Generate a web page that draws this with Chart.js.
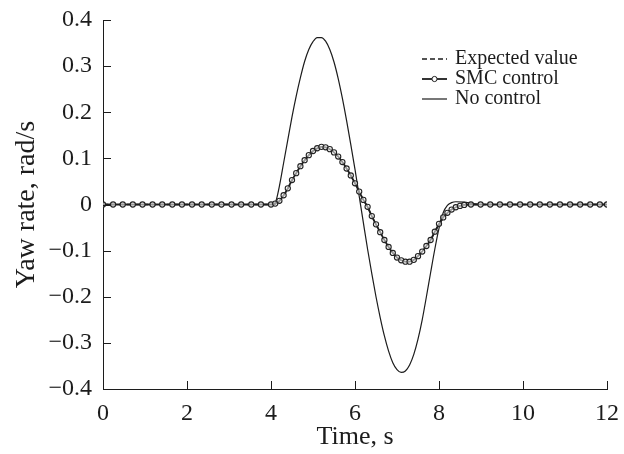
<!DOCTYPE html>
<html lang="en">

<head>
    <meta charset="UTF-8">
    <title>Yaw rate</title>
    <script src="https://cdn.jsdelivr.net/npm/chart.js"></script>
    <style>
        body {
            margin: 0;
            background: #fff;
        }
    </style>
</head>

<body>
    <canvas id="yawChart" width="624" height="454"></canvas>

    <script>
        // values (time in s, yaw rate in rad/s)
        const noControlTime = [0, 4.0, 4.1, 4.2, 4.3, 4.4, 4.5, 4.6, 4.7, 4.8, 4.9, 5.0, 5.1, 5.2, 5.3, 5.4, 5.5, 5.6, 5.7,
            5.8, 5.9, 6.0, 6.1, 6.2, 6.3, 6.4, 6.5, 6.6, 6.7, 6.8, 6.9, 7.0, 7.1, 7.2, 7.3, 7.4, 7.5, 7.6, 7.7, 7.8, 7.9,
            8.0, 8.1, 8.2, 8.3, 8.4, 8.6, 8.8, 9.0, 12];
        const noControlRate = [0, 0, 0.004, 0.04, 0.09, 0.14, 0.19, 0.235, 0.275, 0.31, 0.336, 0.353, 0.362, 0.362, 0.354,
            0.336, 0.309, 0.273, 0.23, 0.182, 0.13, 0.076, 0.018, -0.04, -0.097, -0.15, -0.2, -0.245, -0.285, -0.318,
            -0.343, -0.358, -0.364, -0.361, -0.348, -0.325, -0.292, -0.25, -0.2, -0.148, -0.097, -0.052, -0.018, -0.002,
            0.004, 0.006, 0.005, 0.002, 0, 0];

        const smcTime = [0, 0.24, 0.47, 0.71, 0.94, 1.18, 1.41, 1.65, 1.88, 2.12, 2.35, 2.59, 2.82, 3.06, 3.29, 3.53, 3.76,
            4.0, 4.1, 4.2, 4.3, 4.4, 4.5, 4.6, 4.7, 4.8, 4.9, 5.0, 5.1, 5.2, 5.3, 5.4, 5.5, 5.6, 5.7, 5.8, 5.9, 6.0, 6.1,
            6.2, 6.3, 6.4, 6.5, 6.6, 6.7, 6.8, 6.9, 7.0, 7.1, 7.2, 7.3, 7.4, 7.5, 7.6, 7.7, 7.8, 7.9, 8.0, 8.1, 8.2, 8.3,
            8.4, 8.5, 8.6, 8.76, 8.99, 9.22, 9.45, 9.69, 9.93, 10.17, 10.4, 10.64, 10.88, 11.12, 11.36, 11.6, 11.83, 12];
        const smcRate = [0, 0, 0, 0, 0, 0, 0, 0, 0, 0, 0, 0, 0, 0, 0, 0, 0,
            0, 0.002, 0.008, 0.02, 0.035, 0.053, 0.068, 0.083, 0.096, 0.107, 0.116, 0.122, 0.125, 0.124, 0.12, 0.113,
            0.104, 0.092, 0.078, 0.063, 0.046, 0.028, 0.01, -0.005, -0.025, -0.043, -0.06, -0.077, -0.092, -0.105, -0.115,
            -0.121, -0.124, -0.124, -0.12, -0.112, -0.102, -0.09, -0.077, -0.059, -0.042, -0.028, -0.018, -0.011, -0.006,
            -0.003, -0.001, 0, 0, 0, 0, 0, 0, 0, 0, 0, 0, 0, 0, 0, 0, 0];

        const expectedTime = [0, 4.0, 4.1, 4.2, 4.3, 4.4, 4.5, 4.6, 4.7, 4.8, 4.9, 5.0, 5.1, 5.2, 5.3, 5.4, 5.5, 5.6, 5.7,
            5.8, 5.9, 6.0, 6.1, 6.2, 6.3, 6.4, 6.5, 6.6, 6.7, 6.8, 6.9, 7.0, 7.1, 7.2, 7.3, 7.4, 7.5, 7.6, 7.7, 7.8, 7.9,
            8.0, 8.1, 8.2, 8.3, 8.4, 8.5, 8.6, 8.7, 8.8, 12];
        const expectedRate = [0, 0, 0.001, 0.007, 0.019, 0.034, 0.051, 0.067, 0.082, 0.095, 0.106, 0.115, 0.121, 0.124,
            0.124, 0.12, 0.113, 0.104, 0.092, 0.078, 0.063, 0.046, 0.028, 0.01, -0.006, -0.025, -0.043, -0.06, -0.077,
            -0.092, -0.105, -0.115, -0.121, -0.124, -0.124, -0.12, -0.112, -0.102, -0.09, -0.076, -0.06, -0.044, -0.03,
            -0.019, -0.011, -0.006, -0.003, -0.001, 0, 0, 0];

        const xTicks = [0, 2, 4, 6, 8, 10, 12];
        const yTicks = [-0.4, -0.3, -0.2, -0.1, 0, 0.1, 0.2, 0.3, 0.4];

        const ink = '#1c1c1c';
        Chart.defaults.font.family = "'Liberation Serif', 'Times New Roman', serif";
        Chart.defaults.color = ink;

        function toPoints(ts, vs) {
            return ts.map((t, i) => ({ x: t, y: vs[i] }));
        }

        // ticks point into the plot, like the original figure
        const inwardTicks = {
            id: 'inwardTicks',
            afterDraw(chart) {
                const { ctx, chartArea, scales: { x, y } } = chart;
                ctx.save();
                ctx.strokeStyle = ink;
                ctx.lineWidth = 1;
                ctx.beginPath();
                x.ticks.forEach(t => {
                    const px = Math.round(x.getPixelForValue(t.value)) + 0.5;
                    ctx.moveTo(px, chartArea.bottom);
                    ctx.lineTo(px, chartArea.bottom - 8);
                });
                y.ticks.forEach(t => {
                    const py = Math.round(y.getPixelForValue(t.value)) + 0.5;
                    ctx.moveTo(chartArea.left, py);
                    ctx.lineTo(chartArea.left + 8, py);
                });
                ctx.stroke();
                ctx.restore();
            }
        };

        // legend box sitting inside the plot, top right
        const innerLegend = {
            id: 'innerLegend',
            afterDraw(chart) {
                const { ctx, chartArea } = chart;
                const x0 = chartArea.right - 185;
                const y0 = chartArea.top + 39;
                const rows = [2, 1, 0];
                ctx.save();
                ctx.font = "20px 'Liberation Serif'";
                ctx.textBaseline = 'middle';
                ctx.fillStyle = ink;
                rows.forEach((di, r) => {
                    const ds = chart.data.datasets[di];
                    const yy = y0 + r * 20;
                    ctx.strokeStyle = ink;
                    ctx.lineWidth = ds.borderWidth;
                    ctx.setLineDash(ds.borderDash || []);
                    ctx.beginPath();
                    ctx.moveTo(x0, yy);
                    ctx.lineTo(x0 + 25, yy);
                    ctx.stroke();
                    ctx.setLineDash([]);
                    if (ds.pointRadius) {
                        ctx.lineWidth = 1;
                        ctx.fillStyle = '#fff';
                        ctx.beginPath();
                        ctx.arc(x0 + 12.5, yy, ds.pointRadius, 0, Math.PI * 2);
                        ctx.fill();
                        ctx.stroke();
                        ctx.fillStyle = ink;
                    }
                    ctx.fillText(ds.label, x0 + 33, yy);
                });
                ctx.restore();
            }
        };

        const ctx = document.getElementById('yawChart').getContext('2d');
        new Chart(ctx, {
            type: 'line',
            data: {
                datasets: [{
                    label: 'No control',
                    data: toPoints(noControlTime, noControlRate),
                    borderColor: ink,
                    borderWidth: 1.2,
                    pointRadius: 0,
                    cubicInterpolationMode: 'monotone',
                    order: 3
                }, {
                    label: 'SMC control',
                    data: toPoints(smcTime, smcRate),
                    borderColor: ink,
                    borderWidth: 1.8,
                    pointRadius: 2.6,
                    pointBorderWidth: 1.1,
                    pointBorderColor: '#222',
                    pointBackgroundColor: 'rgba(255,255,255,0.55)',
                    cubicInterpolationMode: 'monotone',
                    order: 1
                }, {
                    label: 'Expected value',
                    data: toPoints(expectedTime, expectedRate),
                    borderColor: ink,
                    borderWidth: 1.3,
                    borderDash: [5, 3],
                    pointRadius: 0,
                    cubicInterpolationMode: 'monotone',
                    order: 2
                }]
            },
            options: {
                responsive: false,
                animation: false,
                devicePixelRatio: 1,
                layout: {
                    padding: { top: 20, right: 17, left: 0, bottom: 0 }
                },
                plugins: {
                    legend: { display: false },
                    tooltip: { enabled: false }
                },
                scales: {
                    x: {
                        type: 'linear',
                        min: 0,
                        max: 12,
                        afterFit: s => {
                            s.height = 65;
                            s.paddingLeft = 0;
                            s.paddingRight = 0;
                        },
                        afterBuildTicks: s => { s.ticks = xTicks.map(v => ({ value: v })); },
                        grid: { display: false, drawTicks: false },
                        border: { display: true, color: ink, width: 1 },
                        ticks: {
                            padding: 10,
                            font: { size: 24 },
                            color: ink,
                            callback: v => String(v)
                        },
                        title: {
                            display: true,
                            text: 'Time, s',
                            font: { size: 26 },
                            color: ink,
                            padding: { top: 0, bottom: 1 }
                        }
                    },
                    y: {
                        type: 'linear',
                        min: -0.4,
                        max: 0.4,
                        afterFit: s => {
                            s.width = 103;
                            s.paddingTop = 0;
                            s.paddingBottom = 0;
                        },
                        afterBuildTicks: s => { s.ticks = yTicks.map(v => ({ value: v })); },
                        grid: { display: false, drawTicks: false },
                        border: { display: true, color: ink, width: 1 },
                        ticks: {
                            padding: 11,
                            font: { size: 24 },
                            color: ink,
                            callback: v => {
                                const r = Math.round(v * 10) / 10;
                                return r < 0 ? '\u2212' + Math.abs(r) : String(r);
                            }
                        },
                        title: {
                            display: true,
                            text: 'Yaw rate, rad/s',
                            font: { size: 28 },
                            color: ink,
                            padding: { top: 10, bottom: 0 }
                        }
                    }
                }
            },
            plugins: [inwardTicks, innerLegend]
        });
    </script>
</body>

</html>
